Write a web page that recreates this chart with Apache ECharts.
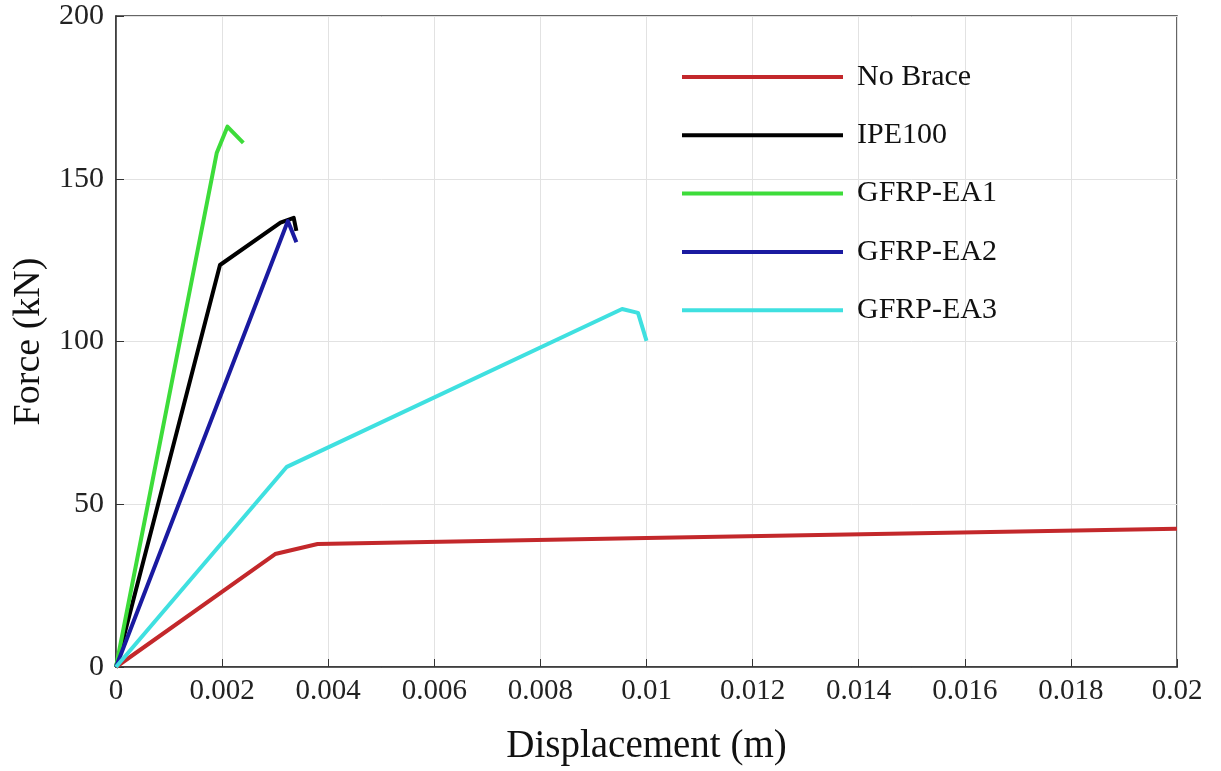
<!DOCTYPE html>
<html>
<head>
<meta charset="utf-8">
<script src="https://cdn.jsdelivr.net/npm/echarts@6/dist/echarts.min.js"></script>
<style>html,body{margin:0;padding:0;background:#fff}#c{width:1221px;height:771px}</style>
</head>
<body>
<div id="c"></div>
<script>
const xTicks = [0, 0.002, 0.004, 0.006, 0.008, 0.01, 0.012, 0.014, 0.016, 0.018, 0.02];
const yTicks = [0, 50, 100, 150, 200];
const seriesNames = ['No Brace', 'IPE100', 'GFRP-EA1', 'GFRP-EA2', 'GFRP-EA3'];
const noBraceX = [0, 0.0030, 0.0038, 0.0100, 0.0200];
const noBraceY = [0, 34.7, 37.8, 39.6, 42.5];
const ipe100X = [0, 0.00196, 0.0031, 0.00335, 0.0034];
const ipe100Y = [0, 123.5, 136.5, 138, 134];
const ea1X = [0, 0.0019, 0.0021, 0.0024];
const ea1Y = [0, 158, 166, 161];
const ea2X = [0, 0.00324, 0.0034];
const ea2Y = [0, 137, 130.5];
const ea3X = [0, 0.00322, 0.00954, 0.00984, 0.0100];
const ea3Y = [0, 61.5, 110, 108.8, 100.2];
const colors = ['#c3282b', '#000000', '#3ddc3a', '#1a1aa0', '#3fe0e0'];

const zip = (xs, ys) => xs.map((x, i) => [x, ys[i]]);
const allData = [zip(noBraceX, noBraceY), zip(ipe100X, ipe100Y), zip(ea1X, ea1Y), zip(ea2X, ea2Y), zip(ea3X, ea3Y)];

const font = 'Liberation Serif';
const axisColor = '#333';
const chart = echarts.init(document.getElementById('c'));
const fmtX = v => String(parseFloat(Number(v).toFixed(3)));

chart.setOption({
  animation: false,
  backgroundColor: '#fff',
  grid: { left: 116, right: 44, top: 16, bottom: 104, show: true, borderColor: axisColor, borderWidth: 1.5, backgroundColor: 'transparent' },
  legend: {
    orient: 'vertical', left: 677, top: 57,
    icon: 'rect', itemWidth: 161, itemHeight: 4, itemGap: 28.3,
    data: seriesNames,
    textStyle: { fontFamily: font, fontSize: 30, color: '#111', lineHeight: 30, padding: [0, 0, 0, 9] }
  },
  xAxis: {
    type: 'value', min: 0, max: 0.02, interval: 0.002,
    name: 'Displacement (m)', nameLocation: 'middle', nameGap: 60,
    nameTextStyle: { fontFamily: font, fontSize: 39, color: '#111' },
    axisLine: { show: true, onZero: false, lineStyle: { color: axisColor, width: 1.5 } },
    axisTick: { show: true, inside: true, length: 8, lineStyle: { color: axisColor } },
    axisLabel: { fontFamily: font, fontSize: 29, color: '#222', margin: 10, formatter: fmtX },
    splitLine: { show: true, lineStyle: { color: '#e2e2e2', width: 1 } }
  },
  yAxis: {
    type: 'value', min: 0, max: 200, interval: 50,
    name: 'Force (kN)', nameLocation: 'middle', nameGap: 64, nameRotate: 90,
    nameTextStyle: { fontFamily: font, fontSize: 38, color: '#111' },
    axisLine: { show: true, onZero: false, lineStyle: { color: axisColor, width: 1.5 } },
    axisTick: { show: true, inside: true, length: 8, lineStyle: { color: axisColor } },
    axisLabel: { fontFamily: font, fontSize: 30, color: '#222', margin: 12 },
    splitLine: { show: true, lineStyle: { color: '#e2e2e2', width: 1 } }
  },
  series: seriesNames.map((n, i) => ({
    name: n, type: 'line', data: allData[i], showSymbol: false, symbol: 'none',
    color: colors[i],
    lineStyle: { width: 4, color: colors[i], join: 'round' },
    itemStyle: { color: colors[i] }
  }))
});
</script>
</body>
</html>
